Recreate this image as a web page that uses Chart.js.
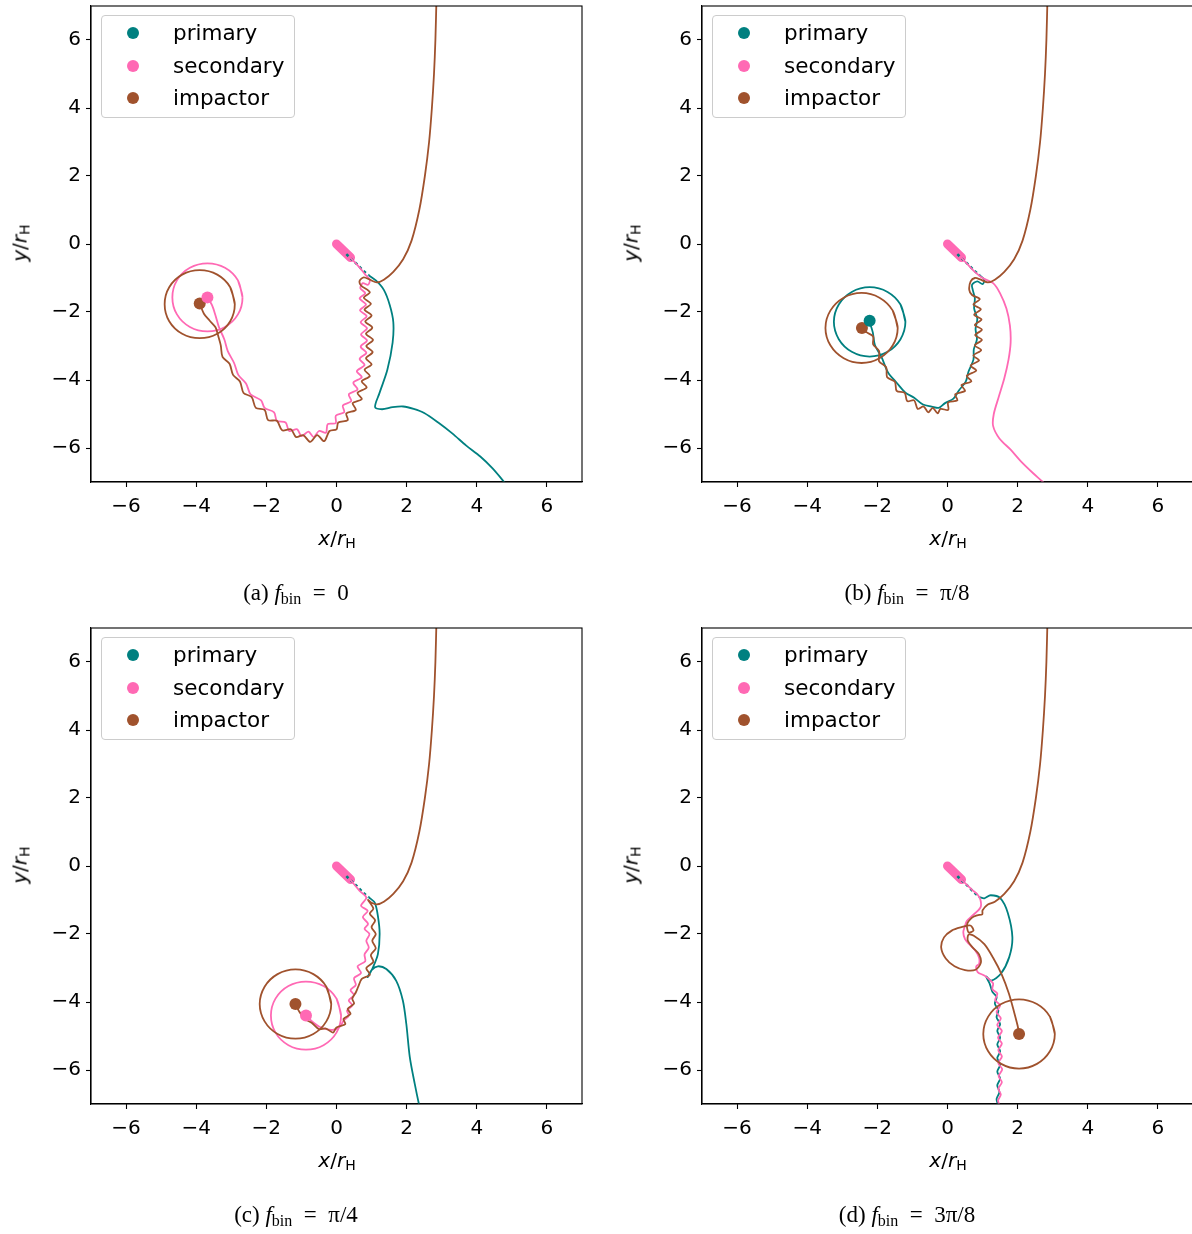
<!DOCTYPE html>
<html>
<head>
<meta charset="utf-8">
<script src="https://cdn.jsdelivr.net/npm/chart.js@4.4.1/dist/chart.umd.min.js"></script>
<style>
body{margin:0;background:#fff;overflow:hidden;width:1192px;height:1234px;position:relative;font-family:'DejaVu Sans',sans-serif;color:#000}
.panel{position:absolute;width:611px;height:622px}
.panel canvas{position:absolute;left:0;top:0}
.legend{position:absolute;left:101px;top:15px;width:192px;height:101px;border:1px solid #ccc;border-radius:4px;background:rgba(255,255,255,.8)}
.row{position:absolute;left:0;width:190px;height:32px;font-size:21.5px;line-height:32px}
.row i{position:absolute;left:25px;top:10px;width:12px;height:12px;border-radius:50%}
.row span{position:absolute;left:71px;top:0}
.xt,.yt{position:absolute;font-size:20px;white-space:nowrap}
.xt{left:337px;top:538px;transform:translate(-50%,-50%)}
.yt{left:20px;top:243px;transform:translate(-50%,-50%) rotate(-90deg)}
.xt sub,.yt sub{font-size:14px;vertical-align:-3px}
.cap{position:absolute;left:296px;top:594px;transform:translate(-50%,-50%);font-family:'Liberation Serif',serif;font-size:23px;white-space:nowrap}
.cap sub{font-size:16px;vertical-align:-4px}
</style>
</head>
<body>
<script>
// axis ticks and labels
const tickValues = [-6, -4, -2, 0, 2, 4, 6];
const seriesNames = ['primary', 'secondary', 'impactor'];
const panelTags = ['(a)', '(b)', '(c)', '(d)'];
const fbinValues = ['0', 'π/8', 'π/4', '3π/8'];

// shared start of every run
const impactorApproach = [[2.85,7.2],[2.82,6.0],[2.78,5.0],[2.72,4.0],[2.64,3.0],[2.52,2.0],[2.36,1.0],[2.14,0.1],[1.9,-0.45],[1.62,-0.82],[1.35,-1.05],[1.15,-1.13]];
const binarySecondaryStart = [[0,0],[0.4,-0.4]];
const binaryPrimaryStart = [[0.28,-0.3],[0.55,-0.56],[0.78,-0.8],[0.92,-0.92]];

// (a) f_bin = 0
const aPrimary = [[0.92,-0.92],[1.13,-1.08],[1.35,-1.35],[1.52,-1.8],[1.62,-2.3],[1.6,-2.9],[1.45,-3.7],[1.22,-4.4],[1.1,-4.8],[1.3,-4.86],[1.6,-4.8],[1.9,-4.78],[2.2,-4.85],[2.5,-4.97],[2.9,-5.25],[3.3,-5.57],[3.7,-5.93],[4.1,-6.25],[4.45,-6.6],[4.78,-7.0],[4.85,-7.1]];
const aSecondary = [[0.36,-0.36],[0.65,-0.68],[0.82,-0.9],[0.95,-1.05],[0.9,-1.2],[0.75,-1.15],[0.68,-1.3],[0.82,-1.45],[0.66,-1.6],[0.84,-1.78],[0.67,-1.95],[0.86,-2.12],[0.69,-2.3],[0.87,-2.48],[0.7,-2.66],[0.87,-2.84],[0.69,-3.02],[0.85,-3.2],[0.66,-3.38],[0.8,-3.56],[0.58,-3.74],[0.72,-3.92],[0.48,-4.08],[0.6,-4.28],[0.35,-4.42],[0.42,-4.62],[0.18,-4.75],[0.22,-4.95],[-0.02,-5.05],[-0.02,-5.27],[-0.25,-5.3],[-0.3,-5.55],[-0.5,-5.5],[-0.65,-5.68],[-0.8,-5.52],[-1.0,-5.65],[-1.12,-5.45],[-1.35,-5.5],[-1.45,-5.25],[-1.7,-5.2],[-1.78,-4.95],[-2.05,-4.82],[-2.15,-4.6],[-2.45,-4.42],[-2.58,-4.1],[-2.8,-3.85],[-2.92,-3.5],[-3.1,-3.15],[-3.2,-2.8],[-3.35,-2.45],[-3.45,-2.1],[-3.55,-1.8],[-3.68,-1.57]];
const aImpactor = [[0.95,-1.05],[0.78,-0.98],[0.66,-1.08],[0.7,-1.22],[0.95,-1.42],[0.78,-1.58],[0.98,-1.76],[0.8,-1.93],[1.0,-2.1],[0.82,-2.28],[1.02,-2.46],[0.84,-2.64],[1.04,-2.82],[0.85,-3.0],[1.03,-3.18],[0.84,-3.36],[1.0,-3.54],[0.8,-3.7],[0.95,-3.88],[0.72,-4.04],[0.86,-4.22],[0.6,-4.38],[0.72,-4.56],[0.46,-4.68],[0.55,-4.88],[0.28,-4.98],[0.32,-5.18],[0.05,-5.25],[0.0,-5.45],[-0.2,-5.5],[-0.35,-5.8],[-0.55,-5.62],[-0.75,-5.82],[-0.95,-5.62],[-1.15,-5.68],[-1.3,-5.45],[-1.55,-5.48],[-1.7,-5.2],[-1.95,-5.18],[-2.05,-4.88],[-2.3,-4.82],[-2.42,-4.5],[-2.65,-4.38],[-2.75,-4.05],[-2.95,-3.85],[-3.05,-3.52],[-3.25,-3.32],[-3.3,-2.98],[-3.38,-2.68],[-3.45,-2.45],[-3.62,-2.25],[-3.78,-2.05],[-3.9,-1.75]];
const aSecondaryLoop = [[-2.68,-1.57],[-2.81,-1.07],[-3.18,-0.7],[-3.68,-0.57],[-4.18,-0.7],[-4.55,-1.07],[-4.68,-1.57],[-4.55,-2.07],[-4.18,-2.44],[-3.68,-2.57],[-3.18,-2.44],[-2.81,-2.07],[-2.68,-1.57],[-2.81,-1.07]];
const aImpactorLoop = [[-2.9,-1.77],[-3.03,-1.27],[-3.4,-0.9],[-3.9,-0.77],[-4.4,-0.9],[-4.77,-1.27],[-4.9,-1.77],[-4.77,-2.27],[-4.4,-2.64],[-3.9,-2.77],[-3.4,-2.64],[-3.03,-2.27],[-2.9,-1.77],[-3.03,-1.27]];
const aSecondaryEnd = [[-3.68,-1.57]];
const aImpactorEnd = [[-3.9,-1.75]];

// (b) f_bin = pi/8
const bPrimary = [[0.92,-0.92],[1.05,-1.05],[1.0,-1.18],[0.85,-1.1],[0.7,-1.2],[0.72,-1.35],[0.78,-1.6],[0.76,-1.9],[0.85,-2.2],[0.8,-2.5],[0.84,-2.8],[0.75,-3.1],[0.74,-3.4],[0.6,-3.75],[0.52,-4.05],[0.33,-4.3],[0.17,-4.55],[-0.07,-4.68],[-0.25,-4.82],[-0.45,-4.78],[-0.7,-4.72],[-0.95,-4.52],[-1.2,-4.37],[-1.45,-4.08],[-1.7,-3.77],[-1.88,-3.33],[-2.07,-2.97],[-2.13,-2.6],[-2.22,-2.29]];
const bSecondary = [[0.36,-0.36],[0.62,-0.65],[0.78,-0.82],[1.0,-1.0],[1.3,-1.15],[1.5,-1.45],[1.68,-1.9],[1.78,-2.4],[1.8,-2.9],[1.74,-3.4],[1.62,-3.95],[1.46,-4.5],[1.32,-5.0],[1.3,-5.35],[1.48,-5.72],[1.8,-6.05],[2.1,-6.4],[2.45,-6.75],[2.72,-7.0],[2.8,-7.1]];
const bImpactor = [[0.95,-1.05],[0.78,-1.0],[0.66,-1.1],[0.62,-1.35],[0.7,-1.5],[0.92,-1.62],[0.74,-1.78],[0.95,-1.92],[0.76,-2.08],[0.97,-2.22],[0.78,-2.38],[0.98,-2.52],[0.79,-2.68],[0.98,-2.82],[0.78,-2.98],[0.96,-3.12],[0.74,-3.28],[0.9,-3.42],[0.66,-3.58],[0.82,-3.72],[0.55,-3.88],[0.68,-4.04],[0.4,-4.15],[0.5,-4.32],[0.22,-4.42],[0.28,-4.6],[0.02,-4.66],[0.02,-4.88],[-0.2,-4.85],[-0.28,-4.98],[-0.42,-4.82],[-0.55,-4.95],[-0.68,-4.78],[-0.85,-4.85],[-0.95,-4.6],[-1.15,-4.62],[-1.22,-4.38],[-1.45,-4.32],[-1.5,-4.05],[-1.72,-3.92],[-1.75,-3.62],[-1.95,-3.45],[-1.95,-3.15],[-2.12,-2.95],[-2.12,-2.72],[-2.3,-2.6],[-2.44,-2.47]];
const bPrimaryLoop = [[-1.2,-2.29],[-1.34,-1.78],[-1.71,-1.41],[-2.22,-1.27],[-2.73,-1.41],[-3.1,-1.78],[-3.24,-2.29],[-3.1,-2.8],[-2.73,-3.17],[-2.22,-3.31],[-1.71,-3.17],[-1.34,-2.8],[-1.2,-2.29],[-1.34,-1.78]];
const bImpactorLoop = [[-1.42,-2.47],[-1.56,-1.96],[-1.94,-1.58],[-2.45,-1.44],[-2.96,-1.58],[-3.34,-1.96],[-3.48,-2.47],[-3.34,-2.98],[-2.96,-3.36],[-2.45,-3.5],[-1.94,-3.36],[-1.56,-2.98],[-1.42,-2.47],[-1.56,-1.96]];
const bPrimaryEnd = [[-2.22,-2.26]];
const bImpactorEnd = [[-2.44,-2.47]];

// (c) f_bin = pi/4
const cPrimary = [[0.92,-0.92],[1.09,-1.08],[1.18,-1.47],[1.23,-2.0],[1.18,-2.59],[1.04,-2.98],[0.89,-3.27],[1.0,-3.06],[1.18,-2.95],[1.42,-3.03],[1.7,-3.37],[1.89,-3.95],[1.99,-4.64],[2.09,-5.62],[2.23,-6.4],[2.35,-7.0],[2.38,-7.1]];
const cSecondary = [[0.36,-0.36],[0.66,-0.73],[0.85,-0.93],[0.7,-1.17],[0.89,-1.32],[0.75,-1.5],[0.9,-1.7],[0.8,-1.85],[0.94,-2.0],[0.85,-2.2],[0.92,-2.4],[0.8,-2.6],[0.82,-2.8],[0.6,-2.95],[0.7,-3.15],[0.5,-3.3],[0.55,-3.5],[0.4,-3.65],[0.5,-3.8],[0.35,-3.95],[0.45,-4.1],[0.3,-4.25],[0.35,-4.4],[0.2,-4.55],[0.1,-4.72],[-0.1,-4.82],[-0.3,-4.8],[-0.5,-4.72],[-0.72,-4.55],[-0.87,-4.4]];
const cImpactor = [[1.0,-1.08],[0.9,-1.0],[1.05,-1.25],[0.95,-1.4],[1.1,-1.6],[1.0,-1.8],[1.12,-2.0],[1.02,-2.2],[1.12,-2.42],[0.98,-2.62],[1.05,-2.82],[0.85,-3.0],[0.95,-3.2],[0.72,-3.32],[0.62,-3.55],[0.55,-3.72],[0.45,-3.9],[0.5,-4.05],[0.32,-4.2],[0.4,-4.35],[0.2,-4.5],[0.25,-4.65],[0.0,-4.75],[-0.1,-4.9],[-0.3,-4.78],[-0.5,-4.8],[-0.7,-4.62],[-0.9,-4.5],[-1.05,-4.3],[-1.17,-4.08]];
const cSecondaryLoop = [[0.13,-4.4],[0.0,-3.9],[-0.37,-3.53],[-0.87,-3.4],[-1.37,-3.53],[-1.74,-3.9],[-1.87,-4.4],[-1.74,-4.9],[-1.37,-5.27],[-0.87,-5.4],[-0.37,-5.27],[0.0,-4.9],[0.13,-4.4],[0.0,-3.9]];
const cImpactorLoop = [[-0.15,-4.06],[-0.29,-3.55],[-0.66,-3.18],[-1.17,-3.04],[-1.68,-3.18],[-2.05,-3.55],[-2.19,-4.06],[-2.05,-4.57],[-1.68,-4.94],[-1.17,-5.08],[-0.66,-4.94],[-0.29,-4.57],[-0.15,-4.06],[-0.29,-3.55]];
const cSecondaryEnd = [[-0.87,-4.4]];
const cImpactorEnd = [[-1.17,-4.06]];

// (d) f_bin = 3pi/8
const dPrimary = [[0.92,-0.92],[1.05,-0.95],[1.23,-0.86],[1.51,-0.95],[1.72,-1.38],[1.85,-2.1],[1.76,-2.68],[1.52,-3.17],[1.25,-3.37],[1.1,-3.25],[1.2,-3.45],[1.28,-3.7],[1.4,-3.85],[1.35,-4.05],[1.45,-4.25],[1.4,-4.45],[1.5,-4.65],[1.42,-4.85],[1.5,-5.05],[1.42,-5.25],[1.5,-5.45],[1.42,-5.65],[1.5,-5.85],[1.42,-6.05],[1.5,-6.25],[1.42,-6.45],[1.48,-6.65],[1.4,-6.85],[1.43,-7.0],[1.43,-7.1]];
const dSecondary = [[0.36,-0.36],[0.7,-0.7],[0.85,-0.83],[0.94,-1.0],[0.94,-1.22],[0.7,-1.47],[0.55,-1.62],[0.5,-1.76],[0.45,-1.95],[0.5,-2.15],[0.62,-2.3],[0.8,-2.5],[0.9,-2.7],[0.9,-2.88],[0.82,-2.95],[0.86,-3.12],[1.05,-3.22],[1.15,-3.3],[1.3,-3.45],[1.28,-3.62],[1.42,-3.75],[1.36,-3.95],[1.5,-4.1],[1.4,-4.3],[1.52,-4.48],[1.42,-4.68],[1.55,-4.85],[1.44,-5.05],[1.55,-5.22],[1.45,-5.42],[1.55,-5.6],[1.45,-5.8],[1.56,-5.98],[1.46,-6.18],[1.55,-6.36],[1.45,-6.55],[1.52,-6.72],[1.44,-6.9],[1.47,-7.0],[1.47,-7.1]];
const dImpactor = [[1.0,-1.3],[0.99,-1.42],[0.85,-1.45],[0.7,-1.52],[0.56,-1.71],[0.6,-1.95],[0.74,-1.9],[0.65,-1.75],[0.4,-1.8],[0.12,-1.9],[-0.1,-2.1],[-0.18,-2.4],[-0.05,-2.72],[0.2,-2.95],[0.5,-3.06],[0.8,-3.05],[0.95,-2.85],[0.9,-2.6],[0.72,-2.4],[0.58,-2.2],[0.6,-2.02],[0.75,-2.05],[1.05,-2.3],[1.3,-2.7],[1.55,-3.2],[1.75,-3.75],[1.9,-4.3],[2.0,-4.7],[2.04,-4.94]];
const dImpactorLoop = [[3.06,-4.94],[2.92,-4.43],[2.55,-4.06],[2.04,-3.92],[1.53,-4.06],[1.16,-4.43],[1.02,-4.94],[1.16,-5.45],[1.53,-5.82],[2.04,-5.96],[2.55,-5.82],[2.92,-5.45],[3.06,-4.94],[2.92,-4.43]];
const dImpactorEnd = [[2.04,-4.94]];

const colors = ['#008080', '#ff69b4', '#a0522d'];

const panels = [
  {left: 0, top: 0, lines: [[0, aPrimary], [1, aSecondary], [2, impactorApproach.concat(aImpactor)], [1, aSecondaryLoop], [2, aImpactorLoop]], ends: [[1, aSecondaryEnd], [2, aImpactorEnd]]},
  {left: 611, top: 0, lines: [[0, bPrimary], [1, bSecondary], [2, impactorApproach.concat(bImpactor)], [0, bPrimaryLoop], [2, bImpactorLoop]], ends: [[0, bPrimaryEnd], [2, bImpactorEnd]]},
  {left: 0, top: 622, lines: [[0, cPrimary], [1, cSecondary], [2, impactorApproach.concat(cImpactor)], [1, cSecondaryLoop], [2, cImpactorLoop]], ends: [[1, cSecondaryEnd], [2, cImpactorEnd]]},
  {left: 611, top: 622, lines: [[0, dPrimary], [1, dSecondary], [2, impactorApproach.concat(dImpactor)], [2, dImpactorLoop]], ends: [[2, dImpactorEnd]]}
];

const toXY = arr => arr.map(p => ({x: p[0], y: p[1]}));
const fmt = v => v < 0 ? '\u2212' + Math.abs(v) : String(v);

const frame = {
  id: 'frame',
  afterDraw(chart) {
    const a = chart.chartArea, ctx = chart.ctx;
    ctx.save();
    ctx.strokeStyle = '#000';
    ctx.lineWidth = 1.1;
    ctx.strokeRect(a.left, a.top, a.right - a.left, a.bottom - a.top);
    ctx.restore();
  }
};

function axis(isX) {
  return {
    type: 'linear', min: -7, max: 7,
    afterBuildTicks: s => { s.ticks = tickValues.map(v => ({value: v})); },
    afterFit: s => {
      if (isX) { s.height = 78; s.paddingLeft = 0; s.paddingRight = 0; }
      else { s.width = 91; s.paddingTop = 0; s.paddingBottom = 0; }
    },
    grid: {drawOnChartArea: false, drawTicks: true, tickLength: 5, tickColor: '#000', tickWidth: 1.1},
    border: {display: true, color: '#000', width: 1.1},
    ticks: {color: '#000', font: {family: 'DejaVu Sans', size: 20}, padding: isX ? 8 : 5, maxRotation: 0, autoSkip: false, callback: v => fmt(v)}
  };
}

panels.forEach((p, i) => {
  const box = document.createElement('div');
  box.className = 'panel';
  box.style.left = p.left + 'px';
  box.style.top = p.top + 'px';
  document.body.appendChild(box);

  const cv = document.createElement('canvas');
  cv.width = 596; cv.height = 560;
  box.appendChild(cv);

  const datasets = [];
  p.ends.forEach(e => datasets.push({data: toXY(e[1]), showLine: false, pointRadius: 6, pointHoverRadius: 6, backgroundColor: colors[e[0]], borderWidth: 0, order: 0}));
  p.lines.forEach(l => datasets.push({data: toXY(l[1]), showLine: true, pointRadius: 0, borderColor: colors[l[0]], borderWidth: 1.8, tension: 0.3, fill: false, order: 3 - l[0]}));
  // tight binary at the start
  datasets.push({data: toXY(binaryPrimaryStart), showLine: true, pointRadius: 0, borderColor: colors[0], borderWidth: 2.5, borderDash: [3, 3], order: 4});
  datasets.push({data: toXY(binarySecondaryStart), showLine: true, pointRadius: 0, borderColor: colors[1], borderWidth: 9, borderCapStyle: 'round', order: 5});

  new Chart(cv, {
    type: 'scatter',
    data: {datasets},
    options: {
      responsive: false, animation: false, devicePixelRatio: 1,
      layout: {padding: {top: 4, right: 14, left: 0, bottom: 0}},
      plugins: {legend: {display: false}, tooltip: {enabled: false}},
      scales: {x: axis(true), y: axis(false)}
    },
    plugins: [frame]
  });

  const lg = document.createElement('div');
  lg.className = 'legend';
  seriesNames.forEach((name, k) => {
    const row = document.createElement('div');
    row.className = 'row';
    row.style.top = (1 + k * 32.5) + 'px';
    row.innerHTML = '<i style="background:' + colors[k] + '"></i><span>' + name + '</span>';
    lg.appendChild(row);
  });
  box.appendChild(lg);

  const xt = document.createElement('div');
  xt.className = 'xt';
  xt.innerHTML = '<i>x</i>/<i>r</i><sub>H</sub>';
  box.appendChild(xt);
  const yt = document.createElement('div');
  yt.className = 'yt';
  yt.innerHTML = '<i>y</i>/<i>r</i><sub>H</sub>';
  box.appendChild(yt);

  const cap = document.createElement('div');
  cap.className = 'cap';
  cap.innerHTML = panelTags[i] + ' <i>f</i><sub>bin</sub>&ensp;=&ensp;' + fbinValues[i];
  box.appendChild(cap);
});
</script>
</body>
</html>
